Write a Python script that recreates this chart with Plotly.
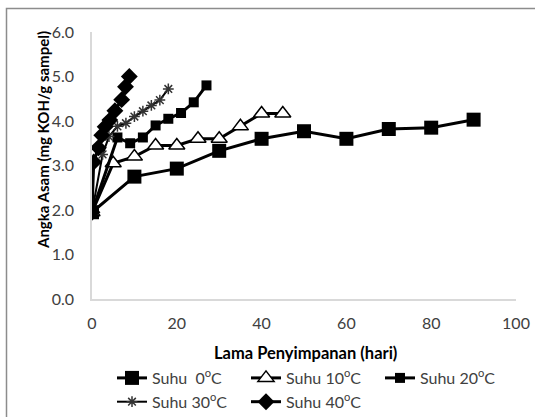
import plotly.graph_objects as go

# ---- data ----
x_0C = [0, 10, 20, 30, 40, 50, 60, 70, 80, 90]
y_0C = [1.95, 2.75, 2.93, 3.33, 3.60, 3.77, 3.60, 3.82, 3.85, 4.03]

x_10C = [0, 5, 10, 15, 20, 25, 30, 35, 40, 45]
y_10C = [1.95, 3.05, 3.20, 3.45, 3.45, 3.60, 3.60, 3.88, 4.17, 4.17]

x_20C = [0, 6, 9, 12, 15, 18, 21, 24, 27]
y_20C = [1.95, 3.63, 3.50, 3.63, 3.90, 4.05, 4.18, 4.42, 4.80]

x_30C = [0, 2.5, 4, 6, 8, 10, 12, 14, 16, 18]
y_30C = [1.95, 3.25, 3.65, 3.88, 3.95, 4.10, 4.22, 4.35, 4.47, 4.72]

x_40C = [0, 0.4, 1.5, 2.3, 3.1, 4.2, 5.4, 7.0, 7.9, 8.8]
y_40C = [1.95, 3.08, 3.40, 3.68, 3.87, 4.02, 4.23, 4.48, 4.77, 5.00]

names = ["Suhu  0<sup>o</sup>C", "Suhu 10<sup>o</sup>C", "Suhu 20<sup>o</sup>C",
         "Suhu 30<sup>o</sup>C", "Suhu 40<sup>o</sup>C"]

x_ticks = [0, 20, 40, 60, 80, 100]
y_ticks = [0, 1, 2, 3, 4, 5, 6]

FONT = "Lato"
TXT = "#404040"

fig = go.Figure()
fig.add_trace(go.Scatter(x=x_0C, y=y_0C, name=names[0], mode="lines+markers",
                         line=dict(color="black", width=3),
                         marker=dict(symbol="square", size=14, color="black")))
fig.add_trace(go.Scatter(x=x_10C, y=y_10C, name=names[1], mode="lines+markers",
                         line=dict(color="black", width=3),
                         marker=dict(symbol="triangle-up", size=14, color="white",
                                     line=dict(color="black", width=1.5))))
fig.add_trace(go.Scatter(x=x_20C, y=y_20C, name=names[2], mode="lines+markers",
                         line=dict(color="black", width=3),
                         marker=dict(symbol="square", size=10, color="black")))
fig.add_trace(go.Scatter(x=x_30C, y=y_30C, name=names[3], mode="lines+markers",
                         line=dict(color="black", width=2),
                         marker=dict(symbol="asterisk", size=9, color="black",
                                     line=dict(color="#333333", width=1.5))))
fig.add_trace(go.Scatter(x=x_40C, y=y_40C, name=names[4], mode="lines+markers",
                         line=dict(color="black", width=3),
                         marker=dict(symbol="diamond", size=13, color="black")))

L, R, T, B = 92, 19, 32, 118
W, H = 535, 417
pw, ph = W - L - R, H - T - B

def px_to_paper_x(px):
    return (px - L) / pw

def px_to_paper_y(py):
    return (H - B - py) / ph

fig.update_layout(
    width=W, height=H,
    margin=dict(l=L, r=R, t=T, b=B, autoexpand=False),
    paper_bgcolor="white", plot_bgcolor="white",
    font=dict(family=FONT, size=15, color=TXT),
    showlegend=True,
    legend=dict(orientation="h", x=px_to_paper_x(112), xanchor="left",
                y=px_to_paper_y(361), yanchor="top",
                entrywidth=89, entrywidthmode="pixels",
                font=dict(family=FONT, size=16, color=TXT),
                tracegroupgap=0, itemwidth=30, bgcolor="rgba(0,0,0,0)"),
    xaxis=dict(range=[0, 100], tickvals=x_ticks, ticktext=[str(v) for v in x_ticks],
               showgrid=False, zeroline=False, showline=True, linecolor="#d9d9d9",
               linewidth=1.5, ticks="", ticklabelstandoff=9,
               tickfont=dict(family=FONT, size=16, color=TXT)),
    yaxis=dict(range=[0, 6], tickvals=y_ticks, ticktext=[f"{v:.1f}" for v in y_ticks],
               showgrid=False, zeroline=False, showline=True, linecolor="#d9d9d9",
               linewidth=1.5, ticks="", ticklabelstandoff=13,
               tickfont=dict(family=FONT, size=16, color=TXT)),
    annotations=[
        dict(text="<b>Lama Penyimpanan (hari)</b>", xref="paper", yref="paper",
             x=px_to_paper_x(305), y=px_to_paper_y(353), showarrow=False,
             xanchor="center", yanchor="middle",
             font=dict(family=FONT, size=16.5, color="black")),
        dict(text="<b>Angka Asam (mg KOH/g sampel)</b>", xref="paper", yref="paper",
             x=px_to_paper_x(43), y=px_to_paper_y(140), showarrow=False, textangle=-90,
             xanchor="center", yanchor="middle",
             font=dict(family=FONT, size=15, color="black")),
    ],
    shapes=[
        dict(type="rect", xref="paper", yref="paper",
             x0=px_to_paper_x(6.5), x1=px_to_paper_x(560),
             y0=px_to_paper_y(440), y1=px_to_paper_y(8.5),
             line=dict(color="#8c8c8c", width=1.5), fillcolor="rgba(0,0,0,0)",
             layer="below"),
    ],
)

fig.write_html("out.html")
